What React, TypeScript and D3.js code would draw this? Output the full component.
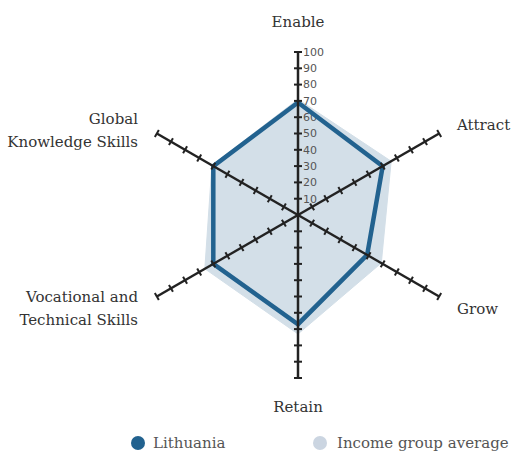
import React from "react";
import * as d3 from "d3";

const axes = ["Enable", "Attract", "Grow", "Retain", "Vocational and Technical Skills", "Global Knowledge Skills"];
const lithuania = [69, 60, 49, 67, 60, 60];
const incomeAvg = [71, 66, 59, 73, 66, 61];
const tickValues = [10, 20, 30, 40, 50, 60, 70, 80, 90, 100];
const seriesNames = ["Lithuania", "Income group average"];

const W = 511, H = 455;
const cx = 298, cy = 215;
const serif = "'DejaVu Serif', serif";

export default function App() {
  const r = d3.scaleLinear().domain([0, 100]).range([0, 163]);
  const angle = (i: number) => (-90 + i * 60) * Math.PI / 180;
  const pt = (i: number, v: number): [number, number] => [cx + r(v) * Math.cos(angle(i)), cy + r(v) * Math.sin(angle(i))];
  const line = d3.line<[number, number]>().curve(d3.curveLinearClosed);
  const avgPath = line(incomeAvg.map((v, i) => pt(i, v)))!;
  const litPath = line(lithuania.map((v, i) => pt(i, v)))!;

  const labelPos = [
    { x: cx, y: 22, anchor: "middle", lines: ["Enable"] },
    { x: 457, y: 125, anchor: "start", lines: ["Attract"] },
    { x: 457, y: 309, anchor: "start", lines: ["Grow"] },
    { x: cx, y: 407, anchor: "middle", lines: ["Retain"] },
    { x: 138, y: 297, anchor: "end", lines: ["Vocational and", "Technical Skills"] },
    { x: 138, y: 119, anchor: "end", lines: ["Global", "Knowledge Skills"] },
  ];

  return (
    <svg width={W} height={H} style={{ position: "absolute", left: 0, top: 0 }}>
      <rect width={W} height={H} fill="#fff" />
      <path d={avgPath} fill="#d3dfe8" stroke="#d3dfe8" strokeWidth={1} strokeLinejoin="round" />
      {tickValues.map((t) => (
        <text key={t} x={cx + 5} y={cy - r(t)} dy="0.35em" fontFamily="'DejaVu Sans', sans-serif" fontSize={11} fill="#555">{t}</text>
      ))}
      <path d={litPath} fill="none" stroke="#22628f" strokeWidth={4.5} strokeLinejoin="miter" />
      {axes.map((a, i) => {
        const [x2, y2] = pt(i, 100);
        const ang = angle(i);
        const px = -Math.sin(ang), py = Math.cos(ang);
        return (
          <g key={a}>
            <line x1={cx} y1={cy} x2={x2} y2={y2} stroke="#222" strokeWidth={2.5} />
            {tickValues.map((t) => {
              const [tx, ty] = pt(i, t);
              return <line key={t} x1={tx - px * 4} y1={ty - py * 4} x2={tx + px * 4} y2={ty + py * 4} stroke="#222" strokeWidth={2} />;
            })}
          </g>
        );
      })}
      {labelPos.map((l, i) => (
        <text key={i} x={l.x} y={l.y} textAnchor={l.anchor as any} fontFamily={serif} fontSize={15} fill="#333">
          {l.lines.map((s, j) => (
            <tspan key={j} x={l.x} dy={j === 0 ? "0.35em" : 23}>{s}</tspan>
          ))}
        </text>
      ))}
      <circle cx={138} cy={443} r={7} fill="#22628f" />
      <text x={153} y={443} dy="0.35em" fontFamily={serif} fontSize={15} fill="#555">{seriesNames[0]}</text>
      <circle cx={320} cy={443} r={7} fill="#cbd5e1" />
      <text x={337} y={443} dy="0.35em" fontFamily={serif} fontSize={15} fill="#555">{seriesNames[1]}</text>
    </svg>
  );
}
